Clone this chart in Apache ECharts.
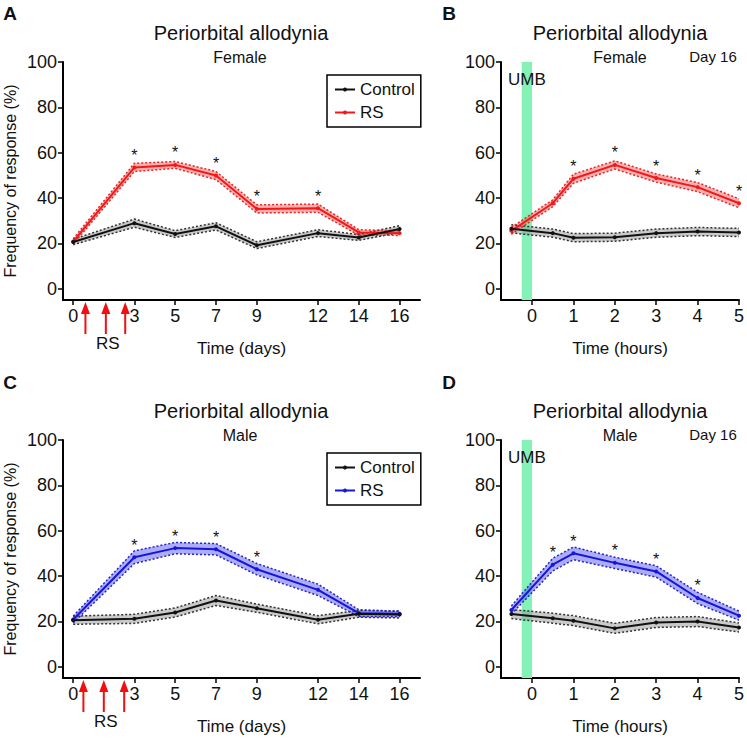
<!DOCTYPE html>
<html><head><meta charset="utf-8">
<script src="https://cdn.jsdelivr.net/npm/echarts@6/dist/echarts.min.js"></script>
<style>html,body{margin:0;padding:0;background:#fff}#c{width:747px;height:739px}</style>
</head><body><div id="c"></div>
<script>
// ---- data ----
const dayTicks = [0, 3, 5, 7, 9, 12, 14, 16];
const hourTicks = [0, 1, 2, 3, 4, 5];
const yTicks = [0, 20, 40, 60, 80, 100];

const days = [0, 3, 5, 7, 9, 12, 14, 16];
const femaleControl = [20.6, 28.9, 24.1, 27.5, 19.2, 24.5, 22.6, 26.3];
const femaleControlSem = [1.2, 1.8, 1.5, 1.6, 1.5, 1.5, 1.3, 1.5];
const femaleRS = [20.8, 53.5, 54.6, 49.9, 35.2, 35.5, 24.8, 24.5];
const femaleRSSem = [1.2, 1.8, 1.5, 1.8, 1.8, 1.8, 1.2, 1.0];
const femaleStarDays = [3, 5, 7, 9, 12];

const maleControl = [20.5, 21.1, 23.9, 29.2, 25.8, 20.7, 23.3, 23.0];
const maleControlSem = [1.8, 2.0, 2.0, 2.2, 1.8, 1.8, 1.5, 1.5];
const maleRS = [20.8, 48.3, 52.3, 51.8, 43.0, 33.9, 23.6, 23.3];
const maleRSSem = [1.5, 2.8, 2.5, 2.5, 2.5, 2.5, 1.5, 1.2];
const maleStarDays = [3, 5, 7, 9];

const hours = [-0.5, 0.5, 1, 2, 3, 4, 5];
const femaleHControl = [26.4, 24.5, 22.5, 22.7, 24.5, 25.2, 24.8];
const femaleHControlSem = [1.8, 1.8, 1.8, 1.8, 1.8, 1.8, 1.8];
const femaleHRS = [25.5, 37.7, 48.5, 54.6, 48.8, 44.8, 37.7];
const femaleHRSSem = [1.5, 1.5, 2.0, 1.8, 1.8, 2.0, 2.0];
const femaleHStars = [1, 2, 3, 4, 5];

const maleHControl = [23.2, 21.4, 20.3, 16.9, 19.5, 19.9, 17.3];
const maleHControlSem = [2.0, 2.2, 2.2, 2.2, 2.2, 2.2, 2.0];
const maleHRS = [25.0, 45.0, 50.0, 45.8, 42.0, 30.3, 22.5];
const maleHRSSem = [1.8, 2.8, 2.8, 2.5, 2.5, 2.5, 2.0];
const maleHStars = [0.5, 1, 2, 3, 4];

const femaleArrowDays = [0.6, 1.6, 2.55];
const maleArrowDays = [0.5, 1.5, 2.5];
const umbRange = [-0.25, 0];

// ---- styling ----
const FONT = "'Liberation Sans', Arial, sans-serif";
const Y_MIN = -5, Y_MAX = 100;
const C_BLACK = '#111111', C_RED = '#f21818', C_BLUE = '#1616d8';
const F_GRAY = 'rgba(150,150,150,0.5)', F_RED = 'rgba(245,80,80,0.45)', F_BLUE = 'rgba(90,90,240,0.5)';
const E_GRAY = '#333333', E_RED = '#e02a2a', E_BLUE = '#2525c8';

const grids = [
  { left: 63, top: 62, width: 357, height: 238 },
  { left: 501, top: 62, width: 238, height: 238 },
  { left: 63, top: 440, width: 357, height: 238 },
  { left: 501, top: 440, width: 238, height: 238 }
];

function xAxisFor(i) {
  const isDays = (i % 2 === 0);
  return {
    type: 'value', gridIndex: i,
    min: isDays ? -0.5 : -0.75, max: isDays ? 17 : 5,
    name: isDays ? 'Time (days)' : 'Time (hours)',
    nameLocation: 'middle', nameGap: 40,
    nameTextStyle: { fontFamily: FONT, fontSize: 17, color: '#111' },
    axisLine: { show: true, onZero: false, lineStyle: { color: '#000', width: 2 } },
    axisTick: { show: true, length: 5, lineStyle: { width: 1.5, color: '#000' }, customValues: isDays ? dayTicks : hourTicks },
    axisLabel: { customValues: isDays ? dayTicks : hourTicks, fontFamily: FONT, fontSize: 18, color: '#111', margin: 7 },
    splitLine: { show: false }
  };
}
function yAxisFor(i) {
  const isLeft = (i % 2 === 0);
  return {
    type: 'value', gridIndex: i, min: Y_MIN, max: Y_MAX,
    name: isLeft ? 'Frequency of response (%)' : '',
    nameLocation: 'middle', nameGap: 45, nameRotate: 90,
    nameTextStyle: { fontFamily: FONT, fontSize: 16, color: '#111' },
    axisLine: { show: true, onZero: false, lineStyle: { color: '#000', width: 2 } },
    axisTick: { show: true, length: 5, lineStyle: { width: 1.5, color: '#000' }, customValues: yTicks },
    axisLabel: { customValues: yTicks, fontFamily: FONT, fontSize: 18, color: '#111', margin: 6 },
    splitLine: { show: false }
  };
}

function band(idx, xs, mean, sem, fill, edge) {
  const lo = xs.map((x, i) => [x, mean[i] - sem[i]]);
  const hi = xs.map((x, i) => [x, mean[i] + sem[i]]);
  const edgeLine = d => ({
    type: 'line', xAxisIndex: idx, yAxisIndex: idx, symbol: 'none', silent: true,
    lineStyle: { type: [2, 2], width: 1.5, color: edge }, z: 3, data: d
  });
  const area = {
    type: 'custom', xAxisIndex: idx, yAxisIndex: idx, silent: true, z: 2,
    data: xs.map((x, i) => [x, lo[i][1], hi[i][1]]),
    renderItem: function (params, api) {
      if (params.dataIndex !== 0) return null;
      const pts = hi.map(p => api.coord(p)).concat(lo.slice().reverse().map(p => api.coord(p)));
      return { type: 'polygon', shape: { points: pts }, style: { fill: fill } };
    }
  };
  return [area, edgeLine(lo), edgeLine(hi)];
}
function mainLine(idx, name, xs, mean, color, stars, z) {
  return {
    type: 'line', name: name, xAxisIndex: idx, yAxisIndex: idx,
    symbol: 'circle', symbolSize: 4, z: z,
    itemStyle: { color: color }, lineStyle: { width: 2, color: color },
    label: { show: false },
    data: xs.map((x, i) => ({
      value: [x, mean[i]],
      label: stars.indexOf(x) >= 0 ? { show: true, formatter: '*', position: 'top', distance: 2, fontSize: 16, fontFamily: FONT, color: '#111' } : { show: false }
    }))
  };
}
function arrows(idx, xs) {
  return {
    type: 'custom', xAxisIndex: idx, yAxisIndex: idx, clip: false, silent: true, z: 6,
    data: xs.map(x => [x, Y_MIN]),
    renderItem: function (params, api) {
      const p = api.coord([api.value(0), api.value(1)]);
      const x = p[0], y = p[1];
      const ch = [
        { type: 'line', shape: { x1: x, y1: y + 12, x2: x, y2: y + 34 }, style: { stroke: '#f01010', lineWidth: 2 } },
        { type: 'polygon', shape: { points: [[x, y + 2], [x - 4.5, y + 14], [x + 4.5, y + 14]] }, style: { fill: '#f01010' } }
      ];
      if (params.dataIndex === 1) {
        ch.push({ type: 'text', style: { text: 'RS', x: x + 2, y: y + 43, align: 'center', verticalAlign: 'middle', fontSize: 17, fontFamily: FONT, fill: '#111' } });
      }
      return { type: 'group', children: ch };
    }
  };
}
function umb(idx) {
  return {
    type: 'line', xAxisIndex: idx, yAxisIndex: idx, data: [], z: 1, silent: true,
    markArea: {
      silent: true,
      itemStyle: { color: '#84f2b6', opacity: 1 },
      label: { show: true, position: 'insideTop', distance: 9, formatter: 'UMB', fontSize: 17, fontFamily: FONT, color: '#111' },
      data: [[{ xAxis: umbRange[0], yAxis: Y_MIN }, { xAxis: umbRange[1], yAxis: Y_MAX }]]
    }
  };
}

const series = [].concat(
  band(0, days, femaleControl, femaleControlSem, F_GRAY, E_GRAY),
  band(0, days, femaleRS, femaleRSSem, F_RED, E_RED),
  [mainLine(0, 'RS_f', days, femaleRS, C_RED, femaleStarDays, 5), mainLine(0, 'Control_f', days, femaleControl, C_BLACK, [], 6), arrows(0, femaleArrowDays)],
  [umb(1)],
  band(1, hours, femaleHControl, femaleHControlSem, F_GRAY, E_GRAY),
  band(1, hours, femaleHRS, femaleHRSSem, F_RED, E_RED),
  [mainLine(1, 'RS_fh', hours, femaleHRS, C_RED, femaleHStars, 5), mainLine(1, 'Control_fh', hours, femaleHControl, C_BLACK, [], 6)],
  band(2, days, maleControl, maleControlSem, F_GRAY, E_GRAY),
  band(2, days, maleRS, maleRSSem, F_BLUE, E_BLUE),
  [mainLine(2, 'RS_m', days, maleRS, C_BLUE, maleStarDays, 5), mainLine(2, 'Control_m', days, maleControl, C_BLACK, [], 6), arrows(2, maleArrowDays)],
  [umb(3)],
  band(3, hours, maleHControl, maleHControlSem, F_GRAY, E_GRAY),
  band(3, hours, maleHRS, maleHRSSem, F_BLUE, E_BLUE),
  [mainLine(3, 'RS_mh', hours, maleHRS, C_BLUE, maleHStars, 5), mainLine(3, 'Control_mh', hours, maleHControl, C_BLACK, [], 6)]
);

function legendFor(top, names) {
  return {
    left: 327, top: top, orient: 'vertical',
    data: names, padding: [6, 6, 6, 7], itemGap: 6, itemWidth: 20, itemHeight: 5,
    borderColor: '#000', borderWidth: 1.5, selectedMode: false,
    formatter: n => n.split('_')[0],
    textStyle: { fontFamily: FONT, fontSize: 17, color: '#111', padding: [0, 0, 0, 0] }
  };
}

function txt(text, x, y, size, weight) {
  return { type: 'text', x: x, y: y, style: { text: text, align: 'center', verticalAlign: 'middle', fontSize: size, fontWeight: weight || 'normal', fontFamily: FONT, fill: '#111' } };
}

const option = {
  animation: false,
  backgroundColor: '#fff',
  grid: grids,
  xAxis: [0, 1, 2, 3].map(xAxisFor),
  yAxis: [0, 1, 2, 3].map(yAxisFor),
  legend: [legendFor(75, ['Control_f', 'RS_f']), legendFor(453, ['Control_m', 'RS_m'])],
  graphic: [
    txt('A', 10, 13, 19, 'bold'), txt('B', 449, 13, 19, 'bold'),
    txt('C', 10, 382, 19, 'bold'), txt('D', 449, 382, 19, 'bold'),
    txt('Periorbital allodynia', 241, 33, 20), txt('Female', 240, 57, 16),
    txt('Periorbital allodynia', 620, 33, 20), txt('Female', 620, 57, 16), txt('Day 16', 713, 56, 15),
    txt('Periorbital allodynia', 241, 411, 20), txt('Male', 240, 435, 16),
    txt('Periorbital allodynia', 620, 411, 20), txt('Male', 620, 435, 16), txt('Day 16', 713, 434, 15)
  ],
  series: series
};

const chart = echarts.init(document.getElementById('c'), null, { renderer: 'svg' });
chart.setOption(option);
</script>
</body></html>
